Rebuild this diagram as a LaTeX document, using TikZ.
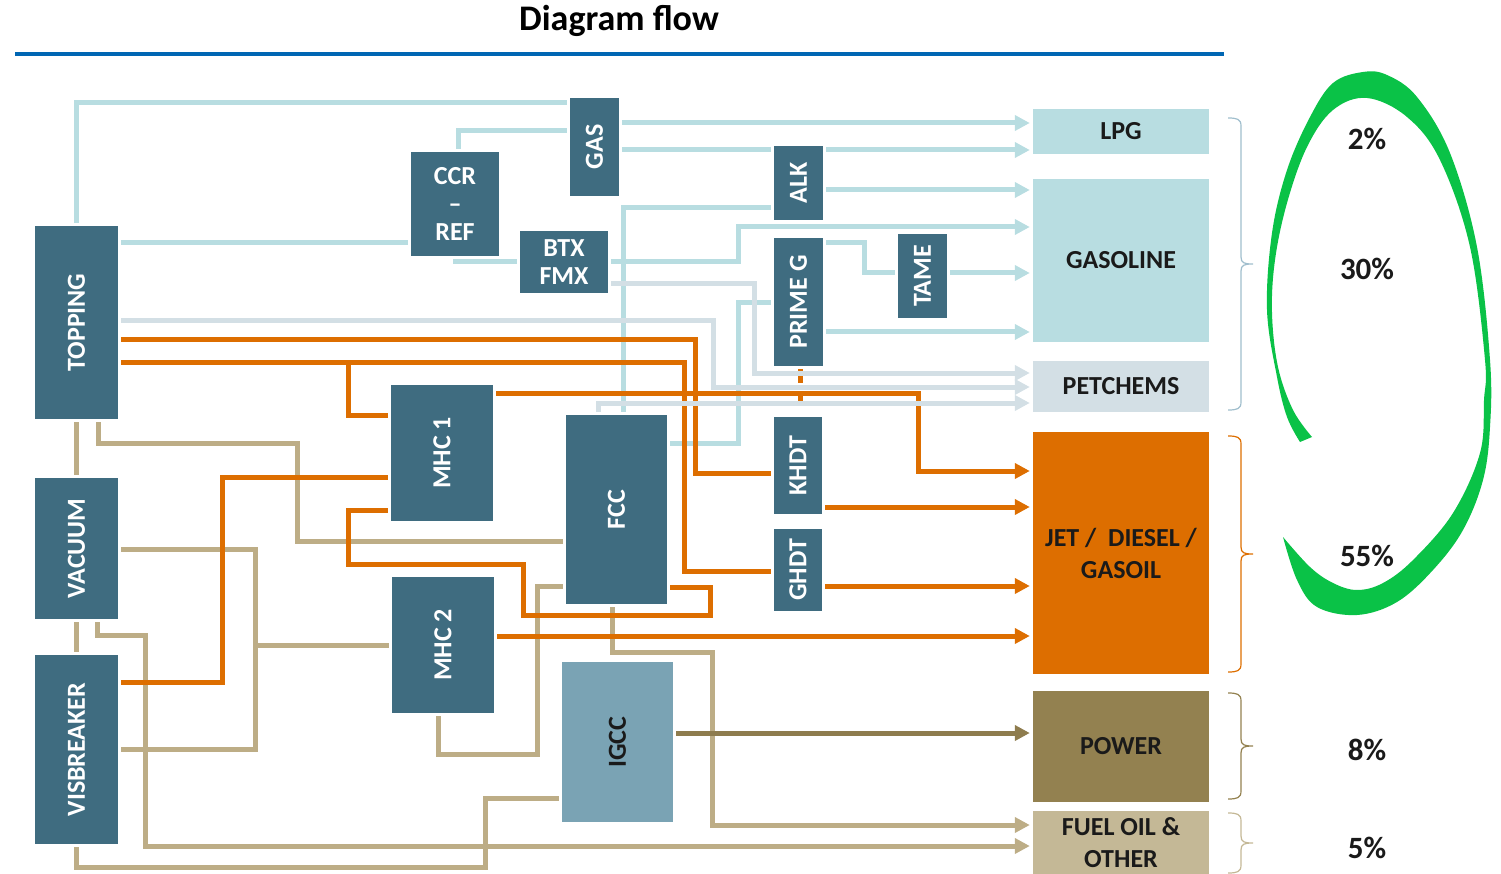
\documentclass[tikz,border=0pt]{standalone}
\usepackage{fontspec}
\setmainfont{Carlito}
\usepackage{graphicx}
\usetikzlibrary{arrows.meta}
\definecolor{unitc}{RGB}{63,108,128}
\definecolor{igccc}{RGB}{122,163,180}
\definecolor{lblue}{RGB}{184,221,225}
\definecolor{pgrey}{RGB}{211,223,229}
\definecolor{orng}{RGB}{221,110,0}
\definecolor{powc}{RGB}{147,129,80}
\definecolor{powl}{RGB}{142,124,78}
\definecolor{fuelc}{RGB}{196,184,150}
\definecolor{tanl}{RGB}{189,173,134}
\definecolor{grn}{RGB}{10,194,71}
\definecolor{tblue}{RGB}{0,102,179}
\definecolor{brc}{RGB}{160,190,205}
\definecolor{txt}{RGB}{26,26,26}
\newcommand\unitfont{\bfseries\fontsize{26}{28}\selectfont}
\newcommand\prodfont{\bfseries\fontsize{26}{32}\selectfont}
\newcommand\prodbrace[4]{%
 \draw[#1, line width=1.2pt] (1228,#2) .. controls (1237,#2) and (1241,#2+1) .. (1241,#2+8) -- (1241,#3-7) .. controls (1241,#3-1) and (1244,#3) .. (1253,#3) .. controls (1244,#3) and (1241,#3+1) .. (1241,#3+7) -- (1241,#4-8) .. controls (1241,#4-1) and (1237,#4) .. (1228,#4);}
\begin{document}
\begin{tikzpicture}[x=1pt,y=-1pt,
  unit/.style={fill=unitc, text=white, font=\unitfont, inner sep=0pt, align=center},
  prod/.style={text=txt, font=\prodfont, inner sep=0pt, align=center, minimum width=176pt},
  conn/.style={line width=5pt, shorten <=3pt, shorten >=3pt},
  tip/.style={-{Triangle[length=15pt,width=15pt]}},
  lb/.style={conn, draw=lblue},
  lba/.style={lb, tip},
  pga/.style={conn, draw=pgrey, tip},
  orl/.style={conn, draw=orng},
  ora/.style={orl, tip},
  tn/.style={conn, draw=tanl},
  tna/.style={tn, tip},
  pwa/.style={conn, draw=powl, tip},
  pct/.style={text=txt, font=\bfseries\fontsize{31}{34}\selectfont, inner sep=0pt}
]
\useasboundingbox (0,0) rectangle (1501,874);

% title
\node[text=black, font=\bfseries\fontsize{36}{40}\selectfont, inner sep=0pt] (title) at (619,21) {Diagram flow};
\draw[tblue, line width=4pt] (15,54) -- (1224,54);

% units
\node[unit, minimum width=83pt, minimum height=193pt] (top) at (76.5,322.5) {\rotatebox{90}{TOPPING}};
\node[unit, minimum width=83pt, minimum height=141pt] (vac) at (76.5,548.5) {\rotatebox{90}{VACUUM}};
\node[unit, minimum width=83pt, minimum height=189pt] (vis) at (76.5,749.5) {\rotatebox{90}{VISBREAKER}};
\node[unit, minimum width=88pt, minimum height=104pt] (ccr) at (455,204) {CCR\\–\\REF};
\node[unit, minimum width=49pt, minimum height=98pt] (gas) at (594.5,147) {\rotatebox{90}{GAS}};
\node[unit, minimum width=88pt, minimum height=62pt] (btx) at (564,262) {BTX\\FMX};
\node[unit, minimum width=49pt, minimum height=74pt] (alk) at (798.5,183) {\rotatebox{90}{ALK}};
\node[unit, minimum width=49pt, minimum height=128pt] (prg) at (798.5,302) {\rotatebox{90}{PRIME G}};
\node[unit, minimum width=49pt, minimum height=84pt] (tame) at (922.5,276) {\rotatebox{90}{TAME}};
\node[unit, minimum width=102pt, minimum height=136pt] (mhc1) at (442,453) {\rotatebox{90}{MHC 1}};
\node[unit, minimum width=102pt, minimum height=136pt] (mhc2) at (443,645) {\rotatebox{90}{MHC 2}};
\node[unit, minimum width=101pt, minimum height=189pt] (fcc) at (616.5,509.5) {\rotatebox{90}{FCC}};
\node[unit, minimum width=48pt, minimum height=97pt] (khdt) at (798,465.5) {\rotatebox{90}{KHDT}};
\node[unit, minimum width=48pt, minimum height=82pt] (ghdt) at (798,570) {\rotatebox{90}{GHDT}};
\node[unit, fill=igccc, text=txt, minimum width=111pt, minimum height=160pt] (igcc) at (617.5,742) {\rotatebox{90}{IGCC}};

% products
\node[prod, fill=lblue, minimum height=45pt] (lpg) at (1121,131.5) {LPG};
\node[prod, fill=lblue, minimum height=163pt] (gsl) at (1121,260.5) {GASOLINE};
\node[prod, fill=pgrey, minimum height=51pt] (pet) at (1121,386.5) {PETCHEMS};
\node[prod, fill=orng, minimum height=242pt] (jet) at (1121,553) {JET /\ \ DIESEL /\\GASOIL};
\node[prod, fill=powc, minimum height=111pt] (pow) at (1121,746.5) {POWER};
\node[prod, fill=fuelc, minimum height=63pt] (fuel) at (1121,842.5) {FUEL OIL \&\\OTHER};

% tan connectors
\draw[tn] (top.south) -- (vac.north);
\draw[tn] (vac.south) -- (vis.north);
\draw[tn] (top.south -| 98,0) -- (98,443) -- (297,443) -- (297,541) -- (fcc.west |- 0,541);
\draw[tn] (vac.east |- 0,549) -- (255,549) -- (255,749) -- (vis.east |- 0,749);
\coordinate (jt) at (255,645);
\draw[tn, shorten <=0pt] (jt) -- (mhc2.west |- jt);
\draw[tna] (vac.south -| 97,0) -- (97,635) -- (145,635) -- (145,846) -- (fuel.west |- 0,846);
\draw[tn] (vis.south) -- (vis.south |- 0,867) -- (485,867) -- (485,798) -- (igcc.west |- 0,798);
\draw[tn] (mhc2.south -| 438,0) -- (438,754) -- (537,754) -- (537,586) -- (fcc.west |- 0,586);
\draw[tna] (fcc.south -| 612,0) -- (612,652) -- (712,652) -- (712,825) -- (fuel.west |- 0,825);
\draw[pwa] (igcc.east |- 0,733) -- (pow.west |- 0,733);

% light blue connectors
\draw[lb] (top.north) -- (top.north |- 0,103) -- (gas.west |- 0,103);
\draw[lb] ([xshift=3pt]ccr.north) -- ([xshift=3pt]ccr.north |- 0,131) -- (gas.west |- 0,131);
\draw[lb] (top.east |- 0,243) -- (ccr.west |- 0,243);
\draw[lb] (ccr.south) -- (ccr.south |- 0,262) -- (btx.west |- 0,262);
\draw[lba] (gas.east |- 0,123) -- (lpg.west |- 0,123);
\draw[lb] (gas.east |- 0,150) -- (alk.west |- 0,150);
\draw[lba] (alk.east |- 0,150) -- (lpg.west |- 0,150);
\draw[lba] (alk.east |- 0,190) -- (gsl.west |- 0,190);
\draw[lb] (fcc.north -| 623,0) -- (623,208) -- (alk.west |- 0,208);
\draw[lba] (btx.east |- 0,262) -- (738,262) -- (738,227) -- (gsl.west |- 0,227);
\draw[lb] (prg.east |- 0,243) -- (864,243) -- (864,273) -- (tame.west |- 0,273);
\draw[lba] (tame.east |- 0,273) -- (gsl.west |- 0,273);
\draw[lba] (prg.east |- 0,332) -- (gsl.west |- 0,332);
\draw[lb] (fcc.east |- 0,443) -- (738,443) -- (738,303) -- (prg.west |- 0,303);

% orange connectors
\draw[orl] (top.east |- 0,340) -- (695,340) -- (695,473) -- (khdt.west |- 0,473);
\draw[orl] (top.east |- 0,362) -- (684,362) -- (684,571) -- (ghdt.west |- 0,571);
\coordinate (jo) at (348,362);
\draw[orl, shorten <=0pt] (jo) -- (348,415) -- (mhc1.west |- 0,415);
\draw[ora] (mhc1.east |- 0,393) -- (918,393) -- (918,471) -- (jet.west |- 0,471);
\draw[ora] (khdt.east |- 0,507) -- (jet.west |- 0,507);
\draw[ora] (ghdt.east |- 0,586) -- (jet.west |- 0,586);
\draw[ora] (mhc2.east |- 0,636) -- (jet.west |- 0,636);
\draw[orl, dash pattern=on 14pt off 9pt] ([xshift=1.5pt]prg.south) -- ([xshift=2pt]khdt.north);
\draw[orl] (vis.east |- 0,682) -- (222,682) -- (222,477) -- (mhc1.west |- 0,477);
\draw[orl] (mhc1.west |- 0,510) -- (348,510) -- (348,564) -- (523,564) -- (523,615) -- (710,615) -- (710,587) -- (fcc.east |- 0,587);

% petchem connectors
\draw[pga] (top.east |- 0,321) -- (713,321) -- (713,387) -- (pet.west |- 0,387);
\draw[pga] (btx.east |- 0,284) -- (754,284) -- (754,373) -- (pet.west |- 0,373);
\draw[pga] (fcc.north -| 598,0) -- (598,403) -- (pet.west |- 0,403);

% braces
\prodbrace{brc}{118}{264}{410}
\prodbrace{orng}{436}{554}{672}
\prodbrace{powc}{693}{746}{799}
\prodbrace{fuelc}{813}{843}{873}

% percentages
\node[pct] (p1) at (1367,139) {2\%};
\node[pct] (p2) at (1367,269) {30\%};
\node[pct] (p3) at (1367,556) {55\%};
\node[pct] (p4) at (1367,750) {8\%};
\node[pct] (p5) at (1367,848) {5\%};

% green loop
\fill[grn] plot[smooth, tension=0.6] coordinates {(1300,442) (1287,417) (1277,377) (1267,310) (1272,233) (1287,170) (1310,117) (1333,83) (1363,72) (1387,75) (1417,97) (1450,153) (1477,247) (1490,360) (1490,427) (1483,480) (1463,530) (1433,570) (1397,602) (1357,615) (1317,607) (1297,580) (1283,537)}
 -- plot[smooth, tension=0.6] coordinates {(1283,537) (1310,567) (1333,583) (1357,590) (1383,583) (1413,560) (1453,513) (1480,453) (1484,400) (1485,360) (1470,247) (1440,160) (1407,117) (1367,98) (1333,110) (1307,147) (1287,203) (1275,260) (1272,313) (1278,367) (1293,410) (1312,437)} -- cycle;
\end{tikzpicture}
\end{document}
